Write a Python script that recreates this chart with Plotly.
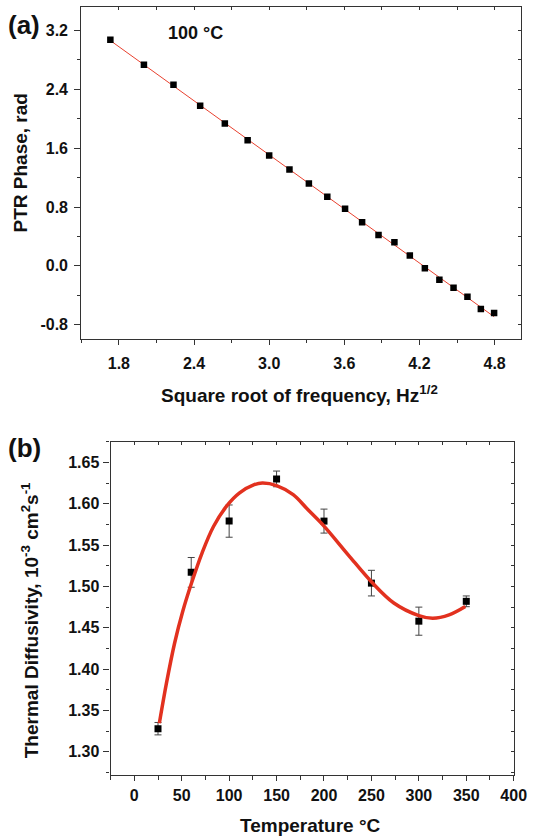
import numpy as np
import plotly.graph_objects as go

# ---------------- data: panel (a) ----------------
sqrt_freq = [1.732, 2.000, 2.236, 2.449, 2.646, 2.828, 3.000, 3.162, 3.317, 3.464,
             3.606, 3.742, 3.873, 4.000, 4.123, 4.243, 4.359, 4.472, 4.583, 4.690, 4.796]
phase = [3.073, 2.734, 2.463, 2.178, 1.934, 1.708, 1.501, 1.311, 1.121, 0.940,
         0.777, 0.592, 0.420, 0.321, 0.140, -0.031, -0.190, -0.298, -0.420, -0.587, -0.642]
a_yticks = [-0.8, 0.0, 0.8, 1.6, 2.4, 3.2]
a_yticklabels = ["-0.8", "0.0", "0.8", "1.6", "2.4", "3.2"]
a_xticks = [1.8, 2.4, 3.0, 3.6, 4.2, 4.8]
a_xticklabels = ["1.8", "2.4", "3.0", "3.6", "4.2", "4.8"]

# ---------------- data: panel (b) ----------------
temps = [25, 60, 100, 150, 200, 250, 300, 350]
diffusivity = [1.328, 1.517, 1.579, 1.630, 1.579, 1.504, 1.458, 1.482]
diff_err = [0.0075, 0.018, 0.0195, 0.0095, 0.0145, 0.0155, 0.017, 0.0065]
# fitted curve
curve_t = [26.4, 33.9, 42.4, 51.1, 60.6, 71.6, 83.5, 97.3, 111, 126.4, 135, 150,
           167.5, 182.9, 200, 225.7, 249.7, 273.6, 300, 314.7, 331.9, 349]
curve_d = [1.3345, 1.383, 1.431, 1.470, 1.505, 1.541, 1.5725, 1.597, 1.613, 1.623, 1.625, 1.622,
           1.611, 1.593, 1.573, 1.538, 1.506, 1.480, 1.4648, 1.4616, 1.4656, 1.4757]

W, H = 543, 838
FONT = "Liberation Sans, Arial, Helvetica, sans-serif"
AX = "#333333"
TICKF = dict(family=FONT, size=16, color="#111", weight="bold")

def px_x(p):
    return p / W

def px_y(p):
    return 1 - p / H

fig = go.Figure()

# panel (a) linear fit
coef = np.polyfit(sqrt_freq, phase, 1)
fx = np.array([min(sqrt_freq), max(sqrt_freq)])
fig.add_trace(go.Scatter(x=fx, y=np.polyval(coef, fx), mode="lines",
                         line=dict(color="#E8412F", width=1), xaxis="x", yaxis="y",
                         showlegend=False, hoverinfo="skip"))
fig.add_trace(go.Scatter(x=sqrt_freq, y=phase, mode="markers",
                         marker=dict(symbol="square", size=6.5, color="black"),
                         xaxis="x", yaxis="y", showlegend=False))

# panel (b)
fig.add_trace(go.Scatter(x=temps, y=diffusivity, mode="markers",
                         marker=dict(symbol="square", size=7, color="black"),
                         error_y=dict(type="data", array=diff_err, color="#444", thickness=1, width=3.5),
                         xaxis="x2", yaxis="y2", showlegend=False))
fig.add_trace(go.Scatter(x=curve_t, y=curve_d, mode="lines", line_shape="spline",
                         line=dict(color="#E2311F", width=3.5), xaxis="x2", yaxis="y2",
                         showlegend=False, hoverinfo="skip"))

# dummy traces for inward-tick overlay axes
fig.add_trace(go.Scatter(x=[None], y=[None], xaxis="x3", yaxis="y3", showlegend=False, hoverinfo="skip"))
fig.add_trace(go.Scatter(x=[None], y=[None], xaxis="x4", yaxis="y4", showlegend=False, hoverinfo="skip"))

a_xdom = [px_x(83.3), px_x(533.7)]
a_ydom = [px_y(338.7), px_y(7.3)]
b_xdom = [px_x(113.3), px_x(526.3)]
b_ydom = [px_y(775), px_y(441.7)]
a_xr = [1.5, 5.01]
a_yr = [-0.99, 3.515]
b_xr = [-25, 400]
b_yr = [1.272, 1.675]

common = dict(showgrid=False, zeroline=False, showline=True, linecolor=AX, linewidth=1.2,
              tickcolor=AX, tickwidth=1, tickfont=TICKF)

fig.update_layout(
    width=W, height=H, margin=dict(l=0, r=0, t=0, b=0),
    paper_bgcolor="white", plot_bgcolor="white", showlegend=False,
    xaxis=dict(domain=a_xdom, anchor="y", range=a_xr, tickmode="array", tickvals=a_xticks,
               ticktext=a_xticklabels, ticks="outside", ticklen=5, mirror=True, ticklabelstandoff=5,
               minor=dict(tickmode="linear", tick0=1.5, dtick=0.3, ticks="outside", ticklen=3.5,
                          tickcolor=AX), **common),
    yaxis=dict(domain=a_ydom, anchor="x", range=a_yr, tickmode="array", tickvals=a_yticks,
               ticktext=a_yticklabels, ticks="outside", ticklen=6, mirror=True, ticklabelstandoff=3,
               minor=dict(tickmode="linear", tick0=0, dtick=0.4, ticks="outside", ticklen=3.5,
                          tickcolor=AX), **common),
    xaxis3=dict(overlaying="x", anchor="y3", side="top", range=a_xr, tickmode="linear", tick0=1.5,
                dtick=0.3, ticks="inside", ticklen=3, tickcolor=AX, showticklabels=False,
                showline=False, showgrid=False, zeroline=False),
    yaxis3=dict(overlaying="y", anchor="x3", side="right", range=a_yr, tickmode="linear", tick0=0,
                dtick=0.4, ticks="inside", ticklen=3, tickcolor=AX, showticklabels=False,
                showline=False, showgrid=False, zeroline=False),
    xaxis2=dict(domain=b_xdom, anchor="y2", range=b_xr, tick0=0, dtick=50, ticks="outside",
                ticklen=5, mirror=True, ticklabelstandoff=1,
                minor=dict(tick0=0, dtick=25, ticks="outside", ticklen=3.5, tickcolor=AX), **common),
    yaxis2=dict(domain=b_ydom, anchor="x2", range=b_yr, tick0=1.3, dtick=0.05, tickformat=".2f",
                ticks="outside", ticklen=6, mirror=True, ticklabelstandoff=1,
                minor=dict(tick0=1.3, dtick=0.025, ticks="outside", ticklen=3.5, tickcolor=AX),
                **common),
    xaxis4=dict(overlaying="x2", anchor="y4", side="top", range=b_xr, tickmode="linear", tick0=0,
                dtick=25, ticks="inside", ticklen=3, tickcolor=AX, showticklabels=False,
                showline=False, showgrid=False, zeroline=False),
    yaxis4=dict(overlaying="y2", anchor="x4", side="right", range=b_yr, tickmode="linear", tick0=1.3,
                dtick=0.025, ticks="inside", ticklen=3, tickcolor=AX, showticklabels=False,
                showline=False, showgrid=False, zeroline=False),
)

def ann(text, x, y, size=19, angle=0):
    fig.add_annotation(text=text, x=px_x(x), y=px_y(y), xref="paper", yref="paper",
                       xanchor="center", yanchor="middle", showarrow=False, textangle=angle,
                       font=dict(family=FONT, size=size, color="#111", weight="bold"))

ann("(a)", 25, 25, size=26)
ann("(b)", 25, 447.5, size=26)
ann("100 °C", 200, 33, size=18)
ann("PTR Phase, rad", 21, 163, angle=-90)
ann("Square root of frequency, Hz<sup>1/2</sup>", 307, 394)
ann("Thermal Diffusivity, 10<sup>-3</sup> cm<sup>2</sup>s<sup>-1</sup>", 31, 620, angle=-90)
ann("Temperature °C", 318, 825)

fig.write_html("out.html", config={"displayModeBar": False},
               post_script="document.body.style.margin='0px';document.body.style.padding='0px';")
